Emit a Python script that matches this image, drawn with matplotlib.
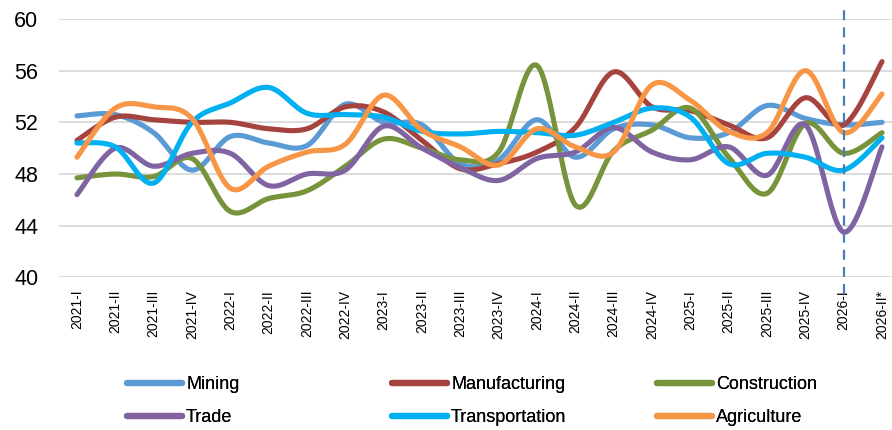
import numpy as np
import matplotlib
matplotlib.use('Agg')
import matplotlib.pyplot as plt

plt.rcParams['font.family'] = ['Liberation Sans', 'DejaVu Sans']

quarters = ['2021-I', '2021-II', '2021-III', '2021-IV',
            '2022-I', '2022-II', '2022-III', '2022-IV',
            '2023-I', '2023-II', '2023-III', '2023-IV',
            '2024-I', '2024-II', '2024-III', '2024-IV',
            '2025-I', '2025-II', '2025-III', '2025-IV',
            '2026-I', '2026-II*']

mining = [52.5, 52.6, 51.2, 48.3, 50.9, 50.4, 50.2, 53.4, 52.0, 51.8, 48.8,
          49.1, 52.2, 49.3, 51.5, 51.8, 50.8, 51.2, 53.3, 52.3, 51.8, 52.0]
manufacturing = [50.6, 52.4, 52.2, 52.0, 52.0, 51.5, 51.5, 53.2, 52.8, 50.6, 48.4,
                 48.8, 49.7, 51.6, 55.9, 53.2, 52.9, 51.8, 50.8, 53.9, 51.8, 56.7]
construction = [47.7, 48.0, 47.8, 49.2, 45.1, 46.1, 46.7, 48.6, 50.7, 50.0, 49.1,
                49.7, 56.4, 45.6, 49.8, 51.4, 53.1, 49.3, 46.5, 51.9, 49.6, 51.2]
trade = [46.4, 50.0, 48.6, 49.6, 49.6, 47.1, 48.0, 48.3, 51.7, 50.0, 48.5,
         47.5, 49.2, 49.7, 51.6, 49.7, 49.1, 50.1, 47.9, 51.8, 43.5, 50.1]
transportation = [50.4, 50.1, 47.3, 52.0, 53.5, 54.7, 52.7, 52.6, 52.4, 51.3, 51.1,
                  51.3, 51.2, 51.0, 52.0, 53.1, 52.4, 48.8, 49.6, 49.3, 48.3, 50.8]
agriculture = [49.3, 53.1, 53.2, 52.3, 46.9, 48.6, 49.7, 50.3, 54.1, 51.4, 50.1,
               48.7, 51.5, 50.1, 49.7, 54.9, 53.7, 51.3, 51.2, 56.0, 51.2, 54.2]

series = [('Mining', mining, '#5B9BD5'),
          ('Manufacturing', manufacturing, '#A5433F'),
          ('Construction', construction, '#77933C'),
          ('Trade', trade, '#8064A2'),
          ('Transportation', transportation, '#00B0F0'),
          ('Agriculture', agriculture, '#F79646')]


def smooth(xs, ys, n=30):
    # cubic bezier through every point, control points from neighbours (excel-style)
    p = np.column_stack([xs, ys]).astype(float)
    out = []
    t = np.linspace(0, 1, n)[:, None]
    for i in range(len(p) - 1):
        p0 = p[i - 1] if i > 0 else p[i]
        p1, p2 = p[i], p[i + 1]
        p3 = p[i + 2] if i + 2 < len(p) else p[i + 1]
        c1 = p1 + (p2 - p0) / 6
        c2 = p2 - (p3 - p1) / 6
        seg = ((1 - t) ** 3) * p1 + 3 * ((1 - t) ** 2) * t * c1 \
            + 3 * (1 - t) * t ** 2 * c2 + t ** 3 * p2
        out.append(seg if i == 0 else seg[1:])
    out = np.vstack(out)
    return out[:, 0], out[:, 1]


fig = plt.figure(figsize=(8.92, 4.30), dpi=100)
ax = fig.add_axes([0.0661, 0.3551, 0.9339, 0.6007])

x = np.arange(len(quarters))
for name, vals, col in series:
    sx, sy = smooth(x, vals)
    ax.plot(sx, sy, color=col, lw=3.7, solid_capstyle='round', label=name)

# forecast divider
ax.plot([20, 20], [38.7, 61.0], color='#4A7EBB', lw=1.6, ls=(0, (4.5, 3.2)),
        clip_on=False, zorder=5)

ax.set_xlim(-0.47, 21.26)
ax.set_ylim(40, 60)
ax.set_yticks(range(40, 61, 4))
ax.yaxis.grid(True, color='#D9D9D9', lw=1.3)
ax.set_axisbelow(True)
ax.set_xticks(x)
ax.set_xticklabels(quarters, rotation=90, fontsize=10, va='top', ha='center')
ax.tick_params(axis='x', length=0, pad=9)
ax.tick_params(axis='y', length=0, pad=15, labelsize=15.5)
for s in ax.spines.values():
    s.set_visible(False)

handles = ax.get_lines()
cols = [(0, 3), (1, 4), (2, 5)]
lefts = [127, 392, 657]
for (a, b), lx in zip(cols, lefts):
    leg = fig.legend([handles[a], handles[b]],
                     [handles[a].get_label(), handles[b].get_label()],
                     loc='upper left', bbox_to_anchor=(lx / 892, 1 - 376 / 430),
                     frameon=False, fontsize=13, handlelength=3.05,
                     handletextpad=0.22, labelspacing=0.9, borderpad=0,
                     borderaxespad=0)
    for ln in leg.get_lines():
        ln.set_linewidth(4.5)
        ln.set_solid_capstyle('round')
    fig.add_artist(leg)

fig.savefig('out.png', dpi=100)
